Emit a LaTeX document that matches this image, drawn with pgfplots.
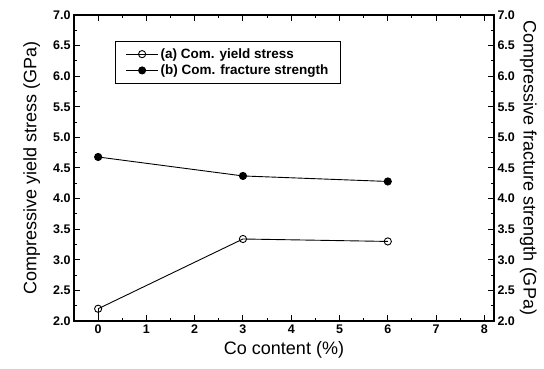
\documentclass[border=0pt]{standalone}
\usepackage{pgfplots}
\pgfplotsset{compat=1.18}
\usepackage{fontspec}
\setmainfont{Liberation Sans}
\begin{document}
\begin{tikzpicture}
\pgfplotsset{
  myax/.style={
    width=420pt, height=306pt, scale only axis,
    at={(0,0)}, anchor=south west,
    xmin=-0.5, xmax=8.2, ymin=2, ymax=7,
    axis line style={line width=1.6pt},
    tick style={line width=1pt, black},
    major tick length=6pt, minor tick length=3pt,
    tick align=inside,
    /pgf/number format/assume math mode=true,
    tick label style={font=\fontsize{12.5}{12.5}\selectfont\bfseries},
    label style={font=\fontsize{18}{18}\selectfont},
    ytick={2,2.5,...,7}, minor y tick num=1,
    yticklabel style={/pgf/number format/.cd, fixed, fixed zerofill, precision=1},
  }
}
\begin{axis}[myax,
  xtick={0,...,8}, minor x tick num=1, xtick pos=both, xticklabel pos=lower,
  ytick pos=left,
  xlabel={Co content (\%)},
  ylabel={Compressive yield stress (GPa)},
  xlabel style={yshift=-1pt},
  ylabel style={yshift=6pt},
  legend style={at={(rel axis cs:0.098,0.915)}, anchor=north west,
    draw=black, line width=1pt, font=\fontsize{13.5}{15}\selectfont\bfseries,
    inner xsep=10pt, inner ysep=5pt, row sep=1pt},
  legend cell align=left,
  legend image code/.code={
    \draw[line width=0.9pt, black] (0pt,0pt) -- (32pt,0pt);
    \draw[#1, line width=0.8pt] plot coordinates {(16pt,0pt)};
  },
]
\addplot[black, line width=0.9pt, mark=o, mark size=3.6pt,
  mark options={fill=white, line width=0.9pt},
  error bars/.cd, y dir=minus, y explicit, error mark=none,
  error bar style={line width=0.9pt}]
  coordinates {(0,2.2) -= (0,0.2) (3,3.34) -= (0,0) (6,3.30) -= (0,0)};
\addlegendentry{(a) Com. yield stress}
\addplot[black, line width=0.9pt, mark=*, mark size=3.6pt]
  coordinates {(0,4.68) (3,4.37) (6,4.28)};
\addlegendentry{(b) Com. fracture strength}
\end{axis}
\begin{axis}[myax,
  axis x line=none, axis y line*=right,
  ytick pos=right,
  ylabel={Compressive fracture strength (GPa)},
  ylabel style={rotate=180, yshift=-2pt},
]
\end{axis}
\pgfresetboundingbox
\path[use as bounding box] (-74pt,-48pt) rectangle (470pt,321pt);
\end{tikzpicture}
\end{document}
